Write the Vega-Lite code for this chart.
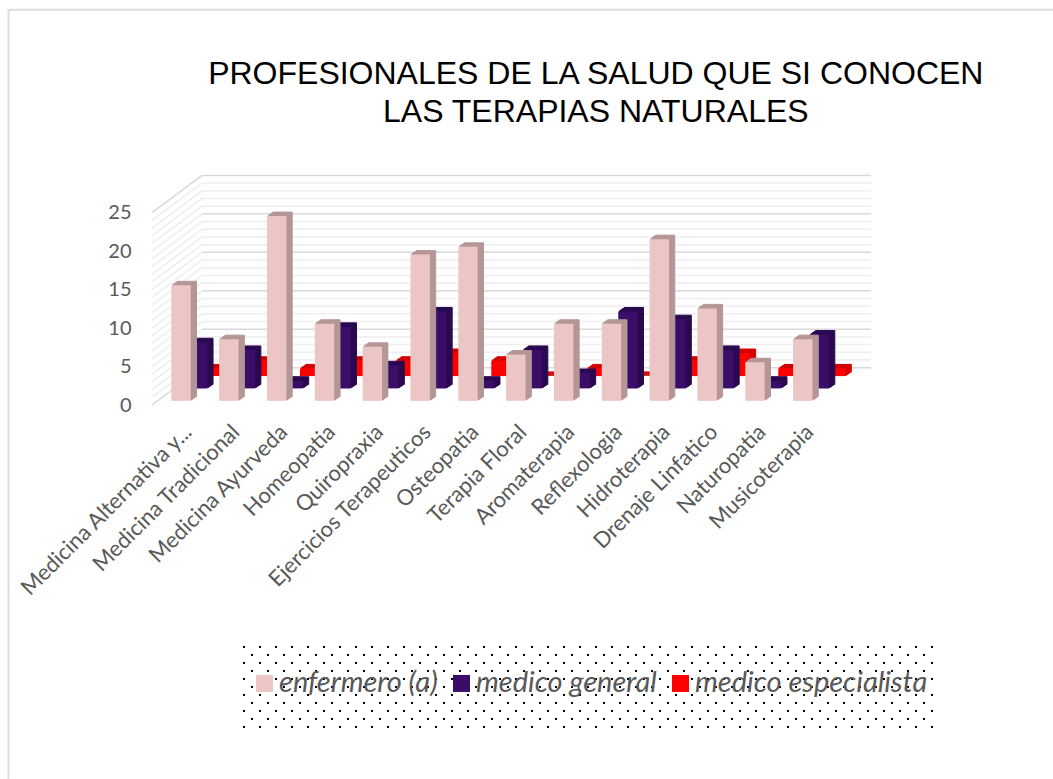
{"$schema":"https://vega.github.io/schema/vega-lite/v6.json","width":669.6,"height":192.3,"autosize":{"type":"none"},"padding":{"left":152,"top":212.7,"right":231.4,"bottom":374},"background":"#ffffff","view":{"stroke":null},
"title":{"text":["PROFESIONALES DE LA SALUD QUE SI CONOCEN","LAS TERAPIAS NATURALES"],"font":"Liberation Sans","fontSize":32,"fontWeight":"normal","color":"#000000","lineHeight":38,"anchor":"middle","frame":"group","dx":109,"offset":0,"dy":120},
"datasets":{
"filas":[{"fila":0},{"fila":1},{"fila":2},{"fila":3},{"fila":4},{"fila":5},{"fila":6},{"fila":7},{"fila":8},{"fila":9},{"fila":10}],
"rejilla":[{"v":0},{"v":1},{"v":2},{"v":3},{"v":4},{"v":5},{"v":6},{"v":7},{"v":8},{"v":9},{"v":10},{"v":11},{"v":12},{"v":13},{"v":14},{"v":15},{"v":16},{"v":17},{"v":18},{"v":19},{"v":20},{"v":21},{"v":22},{"v":23},{"v":24},{"v":25}],
"barras":[
{"cat":"Medicina Alternativa y...","serie":"enfermero (a)","valor":15},{"cat":"Medicina Tradicional","serie":"enfermero (a)","valor":8},{"cat":"Medicina Ayurveda","serie":"enfermero (a)","valor":24},{"cat":"Homeopatia","serie":"enfermero (a)","valor":10},{"cat":"Quiropraxia","serie":"enfermero (a)","valor":7},{"cat":"Ejercicios Terapeuticos","serie":"enfermero (a)","valor":19},{"cat":"Osteopatia","serie":"enfermero (a)","valor":20},{"cat":"Terapia Floral","serie":"enfermero (a)","valor":6},{"cat":"Aromaterapia","serie":"enfermero (a)","valor":10},{"cat":"Reflexologia","serie":"enfermero (a)","valor":10},{"cat":"Hidroterapia","serie":"enfermero (a)","valor":21},{"cat":"Drenaje Linfatico","serie":"enfermero (a)","valor":12},{"cat":"Naturopatia","serie":"enfermero (a)","valor":5},{"cat":"Musicoterapia","serie":"enfermero (a)","valor":8},
{"cat":"Medicina Alternativa y...","serie":"medico general","valor":6},{"cat":"Medicina Tradicional","serie":"medico general","valor":5},{"cat":"Medicina Ayurveda","serie":"medico general","valor":1},{"cat":"Homeopatia","serie":"medico general","valor":8},{"cat":"Quiropraxia","serie":"medico general","valor":3},{"cat":"Ejercicios Terapeuticos","serie":"medico general","valor":10},{"cat":"Osteopatia","serie":"medico general","valor":1},{"cat":"Terapia Floral","serie":"medico general","valor":5},{"cat":"Aromaterapia","serie":"medico general","valor":2},{"cat":"Reflexologia","serie":"medico general","valor":10},{"cat":"Hidroterapia","serie":"medico general","valor":9},{"cat":"Drenaje Linfatico","serie":"medico general","valor":5},{"cat":"Naturopatia","serie":"medico general","valor":1},{"cat":"Musicoterapia","serie":"medico general","valor":7},
{"cat":"Medicina Alternativa y...","serie":"medico especialista","valor":1},{"cat":"Medicina Tradicional","serie":"medico especialista","valor":2},{"cat":"Medicina Ayurveda","serie":"medico especialista","valor":1},{"cat":"Homeopatia","serie":"medico especialista","valor":2},{"cat":"Quiropraxia","serie":"medico especialista","valor":2},{"cat":"Ejercicios Terapeuticos","serie":"medico especialista","valor":3},{"cat":"Osteopatia","serie":"medico especialista","valor":2},{"cat":"Terapia Floral","serie":"medico especialista","valor":0},{"cat":"Aromaterapia","serie":"medico especialista","valor":1},{"cat":"Reflexologia","serie":"medico especialista","valor":0},{"cat":"Hidroterapia","serie":"medico especialista","valor":2},{"cat":"Drenaje Linfatico","serie":"medico especialista","valor":3},{"cat":"Naturopatia","serie":"medico especialista","valor":1},{"cat":"Musicoterapia","serie":"medico especialista","valor":1}
]},
"resolve":{"scale":{"x":"independent","y":"independent","color":"independent"},"axis":{"x":"independent","y":"independent"}},
"layer":[
{"data":{"values":[{"borde":"marco"}]},"mark":{"type":"rule","color":"#dcdcdc","strokeWidth":2},"encoding":{"x":{"datum":0,"type":"quantitative","scale":{"domain":[0,1],"range":[-143.5,901]},"axis":null},"x2":{"datum":1},"y":{"datum":0,"type":"quantitative","scale":{"domain":[0,1],"range":[-203,566]},"axis":null}}},
{"data":{"values":[{"borde":"marco"}]},"mark":{"type":"rule","color":"#dcdcdc","strokeWidth":2},"encoding":{"x":{"datum":0,"type":"quantitative","scale":{"domain":[0,1],"range":[-143.5,901]},"axis":null},"y":{"datum":0,"type":"quantitative","scale":{"domain":[0,1],"range":[-203,566]},"axis":null},"y2":{"datum":1}}},
{"data":{"name":"rejilla"},"mark":{"type":"rule","strokeWidth":1.5},"encoding":{"x":{"datum":0,"type":"quantitative","scale":{"domain":[0,1],"range":[50,719]},"axis":null},"x2":{"datum":1},"y":{"field":"v","type":"quantitative","scale":{"domain":[0,25],"range":[155,-37.3]},"axis":null},"color":{"condition":{"test":"datum.v % 5 === 0","value":"#d9d9d9"},"value":"#eeeeee"}}},
{"data":{"name":"rejilla"},"mark":{"type":"rule","strokeWidth":1.5,"y2Offset":-37.3},"encoding":{"x":{"datum":0,"type":"quantitative","scale":{"domain":[0,1],"range":[0,50]},"axis":null},"x2":{"datum":1},"y":{"field":"v","type":"quantitative","scale":{"domain":[0,25],"range":[192.3,0]},"axis":null},"y2":{"field":"v"},"color":{"condition":{"test":"datum.v === 0 || datum.v === 25","value":"#d9d9d9"},"value":"#eeeeee"}}},
{"data":{"name":"barras"},
"encoding":{"x":{"field":"cat","type":"nominal","sort":null,"scale":{"paddingInner":0.594,"paddingOuter":0.297,"align":0.68},"title":null,"axis":{"domain":false,"ticks":false,"labelAngle":-45,"labelAlign":"right","labelBaseline":"top","labelFont":"Lato","labelFontSize":22,"labelColor":"#595959","labelPadding":16,"labelLimit":300,"labelOverlap":false}},
"y":{"field":"valor","type":"quantitative","stack":null,"scale":{"domain":[0,25]},"title":null,"axis":{"domain":false,"ticks":false,"grid":false,"values":[0,5,10,15,20,25],"labelFont":"Lato","labelFontSize":20,"labelColor":"#595959","labelPadding":21}},
"y2":{"datum":0}},
"layer":[
{"transform":[{"filter":"datum.serie==='medico especialista'"}],"mark":{"type":"bar","color":"#d40000","stroke":"#d40000","strokeWidth":1,"xOffset":38.8,"x2Offset":38.8,"yOffset":-32.9,"y2Offset":-32.9}},
{"transform":[{"filter":"datum.serie==='medico especialista'"}],"mark":{"type":"bar","color":"#d40000","stroke":"#d40000","strokeWidth":1,"xOffset":37.35,"x2Offset":37.35,"yOffset":-31.9,"y2Offset":-31.9}},
{"transform":[{"filter":"datum.serie==='medico especialista'"}],"mark":{"type":"bar","color":"#d40000","stroke":"#d40000","strokeWidth":1,"xOffset":35.9,"x2Offset":35.9,"yOffset":-30.9,"y2Offset":-30.9}},
{"transform":[{"filter":"datum.serie==='medico especialista'"}],"mark":{"type":"bar","color":"#d40000","stroke":"#d40000","strokeWidth":1,"xOffset":34.45,"x2Offset":34.45,"yOffset":-29.9,"y2Offset":-29.9}},
{"transform":[{"filter":"datum.serie==='medico especialista'"}],"mark":{"type":"bar","xOffset":33,"x2Offset":33,"yOffset":-28.9,"y2Offset":-28.9},"encoding":{"color":{"field":"serie","type":"nominal","scale":{"domain":["enfermero (a)","medico general","medico especialista"],"range":["#ecc5c5","#3a0d69","#ff0000"]},"legend":{"orient":"none","legendX":98,"legendY":456,"direction":"horizontal","columns":3,"title":null,"symbolType":"square","symbolSize":289,"symbolOpacity":1,"symbolStrokeWidth":0,"labelFont":"Lato","labelFontStyle":"italic","labelFontSize":29,"labelColor":"#595959","labelLimit":400,"labelOffset":0,"columnPadding":9}}}},
{"transform":[{"filter":"datum.serie==='medico general'"}],"mark":{"type":"bar","color":"#2a0a50","stroke":"#2a0a50","strokeWidth":1,"xOffset":22.3,"x2Offset":22.3,"yOffset":-20.6,"y2Offset":-20.6}},
{"transform":[{"filter":"datum.serie==='medico general'"}],"mark":{"type":"bar","color":"#2a0a50","stroke":"#2a0a50","strokeWidth":1,"xOffset":20.85,"x2Offset":20.85,"yOffset":-19.6,"y2Offset":-19.6}},
{"transform":[{"filter":"datum.serie==='medico general'"}],"mark":{"type":"bar","color":"#2a0a50","stroke":"#2a0a50","strokeWidth":1,"xOffset":19.4,"x2Offset":19.4,"yOffset":-18.6,"y2Offset":-18.6}},
{"transform":[{"filter":"datum.serie==='medico general'"}],"mark":{"type":"bar","color":"#2a0a50","stroke":"#2a0a50","strokeWidth":1,"xOffset":17.95,"x2Offset":17.95,"yOffset":-17.6,"y2Offset":-17.6}},
{"transform":[{"filter":"datum.serie==='medico general'"}],"mark":{"type":"bar","xOffset":16.5,"x2Offset":16.5,"yOffset":-16.6,"y2Offset":-16.6},"encoding":{"color":{"field":"serie","type":"nominal"}}},
{"transform":[{"filter":"datum.serie==='enfermero (a)'"}],"mark":{"type":"bar","color":"#b59696","stroke":"#b59696","strokeWidth":1,"xOffset":5.8,"x2Offset":5.8,"yOffset":-8.3,"y2Offset":-8.3}},
{"transform":[{"filter":"datum.serie==='enfermero (a)'"}],"mark":{"type":"bar","color":"#b59696","stroke":"#b59696","strokeWidth":1,"xOffset":4.35,"x2Offset":4.35,"yOffset":-7.3,"y2Offset":-7.3}},
{"transform":[{"filter":"datum.serie==='enfermero (a)'"}],"mark":{"type":"bar","color":"#b59696","stroke":"#b59696","strokeWidth":1,"xOffset":2.9,"x2Offset":2.9,"yOffset":-6.3,"y2Offset":-6.3}},
{"transform":[{"filter":"datum.serie==='enfermero (a)'"}],"mark":{"type":"bar","color":"#b59696","stroke":"#b59696","strokeWidth":1,"xOffset":1.45,"x2Offset":1.45,"yOffset":-5.3,"y2Offset":-5.3}},
{"transform":[{"filter":"datum.serie==='enfermero (a)'"}],"mark":{"type":"bar","yOffset":-4.3,"y2Offset":-4.3},"encoding":{"color":{"field":"serie","type":"nominal"}}}
]},
{"data":{"name":"filas"},"transform":[{"filter":"datum.fila % 2 === 0"}],"mark":{"type":"rule","color":"#000000","strokeWidth":2,"strokeDash":[2,14]},"encoding":{"x":{"datum":0,"type":"quantitative","scale":{"domain":[0,1],"range":[91,783]},"axis":null},"x2":{"datum":1},"y":{"field":"fila","type":"quantitative","scale":{"domain":[0,10],"range":[434.3,514.3]},"axis":null}}},
{"data":{"name":"filas"},"transform":[{"filter":"datum.fila % 2 === 1"}],"mark":{"type":"rule","color":"#000000","strokeWidth":2,"strokeDash":[2,14],"strokeDashOffset":8},"encoding":{"x":{"datum":0,"type":"quantitative","scale":{"domain":[0,1],"range":[91,783]},"axis":null},"x2":{"datum":1},"y":{"field":"fila","type":"quantitative","scale":{"domain":[0,10],"range":[434.3,514.3]},"axis":null}}}
]}
